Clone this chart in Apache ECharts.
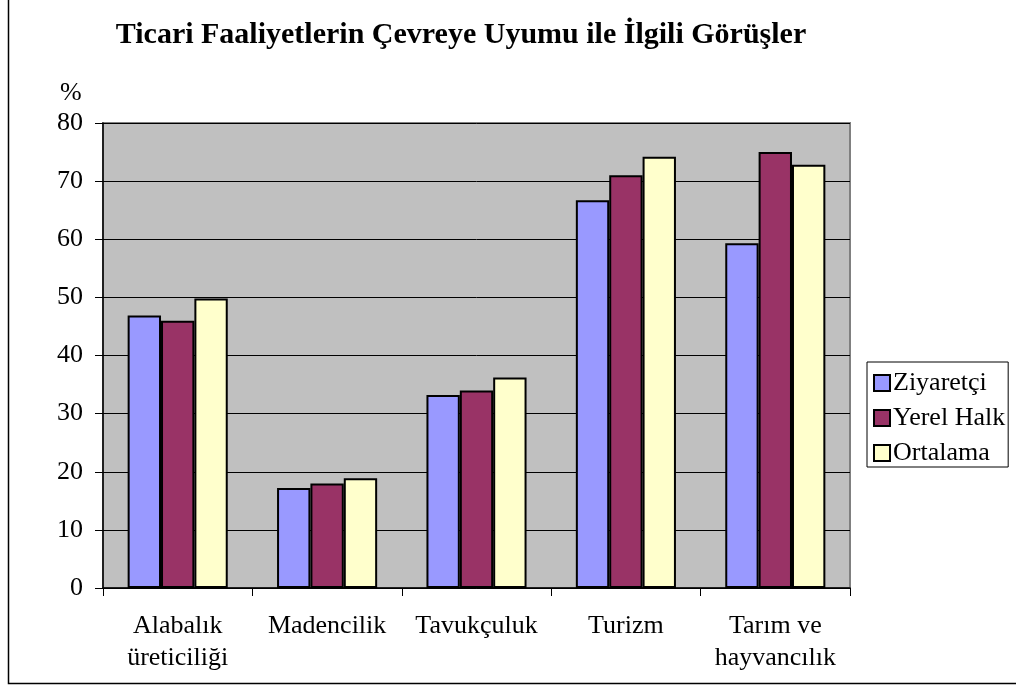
<!DOCTYPE html>
<html>
<head>
<meta charset="utf-8">
<script src="https://cdn.jsdelivr.net/npm/echarts@6/dist/echarts.min.js"></script>
<style>
  html, body { margin: 0; padding: 0; background: #ffffff; }
  #chart { width: 1016px; height: 690px; }
</style>
</head>
<body>
<div id="chart"></div>
<script>
// Activity categories (two-line labels)
const categories = ['Alabalık\nüreticiliği', 'Madencilik', 'Tavukçuluk', 'Turizm', 'Tarım ve\nhayvancılık'];
// Percentages per group
const ziyaretci = [46.9, 17.2, 33.2, 66.7, 59.3];
const yerelHalk = [46.0, 18.0, 34.0, 71.0, 75.0];
const ortalama  = [49.8, 18.9, 36.2, 74.2, 72.8];
const seriesNames = ['Ziyaretçi', 'Yerel Halk', 'Ortalama'];
const yTicks = { min: 0, max: 80, interval: 10 };

const FONT = '"Liberation Serif", "Times New Roman", serif';
const colors = ['#9999FF', '#993366', '#FFFFCC'];

const chart = echarts.init(document.getElementById('chart'), null, { renderer: 'canvas' });

function barSeries(name, data, color) {
  return {
    name: name,
    type: 'bar',
    data: data,
    barGap: '0%',
    barCategoryGap: '33%',
    itemStyle: { color: color, borderColor: '#000000', borderWidth: 2 },
    emphasis: { disabled: true }
  };
}

chart.setOption({
  animation: false,
  backgroundColor: '#ffffff',
  title: {
    text: 'Ticari Faaliyetlerin Çevreye Uyumu ile İlgili Görüşler',
    left: 456,
    top: 15,
    textAlign: 'center',
    textStyle: { fontFamily: FONT, fontSize: 30, fontWeight: 'bold', color: '#000000' }
  },
  legend: {
    orient: 'vertical',
    left: 867,
    top: 362,
    padding: [8, 3, 1, 6],
    itemWidth: 16,
    itemHeight: 16,
    itemGap: 9,
    borderColor: '#000000',
    borderWidth: 1,
    icon: 'rect',
    data: seriesNames,
    itemStyle: { borderColor: '#000000', borderWidth: 2 },
    textStyle: { fontFamily: FONT, fontSize: 26, color: '#000000', padding: [0, 0, 0, -2] }
  },
  grid: {
    left: 103,
    top: 123,
    right: 166,
    bottom: 102,
    show: true,
    backgroundColor: '#C0C0C0',
    borderColor: '#808080',
    borderWidth: 2
  },
  xAxis: {
    type: 'category',
    data: categories,
    axisLine: { show: true, lineStyle: { color: '#000000', width: 1.5 } },
    axisTick: { show: true, length: 8, lineStyle: { color: '#000000' } },
    axisLabel: {
      fontFamily: FONT, fontSize: 26, color: '#000000',
      margin: 22, lineHeight: 32, interval: 0
    }
  },
  yAxis: {
    type: 'value',
    min: yTicks.min,
    max: yTicks.max,
    interval: yTicks.interval,
    axisLine: { show: true, lineStyle: { color: '#000000', width: 1.5 } },
    axisTick: { show: true, length: 8, lineStyle: { color: '#000000' } },
    splitLine: { show: true, lineStyle: { color: '#000000', width: 1 } },
    axisLabel: { fontFamily: FONT, fontSize: 26, color: '#000000', margin: 20 }
  },
  graphic: [
    {
      type: 'text',
      left: 60,
      top: 80,
      style: { text: '%', font: '26px ' + FONT, fill: '#000000' }
    },
    {
      type: 'rect',
      shape: { x: 8.5, y: -5, width: 1100, height: 688.5 },
      style: { fill: 'none', stroke: '#000000', lineWidth: 1.5 },
      silent: true
    }
  ],
  series: [
    barSeries(seriesNames[0], ziyaretci, colors[0]),
    barSeries(seriesNames[1], yerelHalk, colors[1]),
    barSeries(seriesNames[2], ortalama, colors[2])
  ]
});
</script>
</body>
</html>
